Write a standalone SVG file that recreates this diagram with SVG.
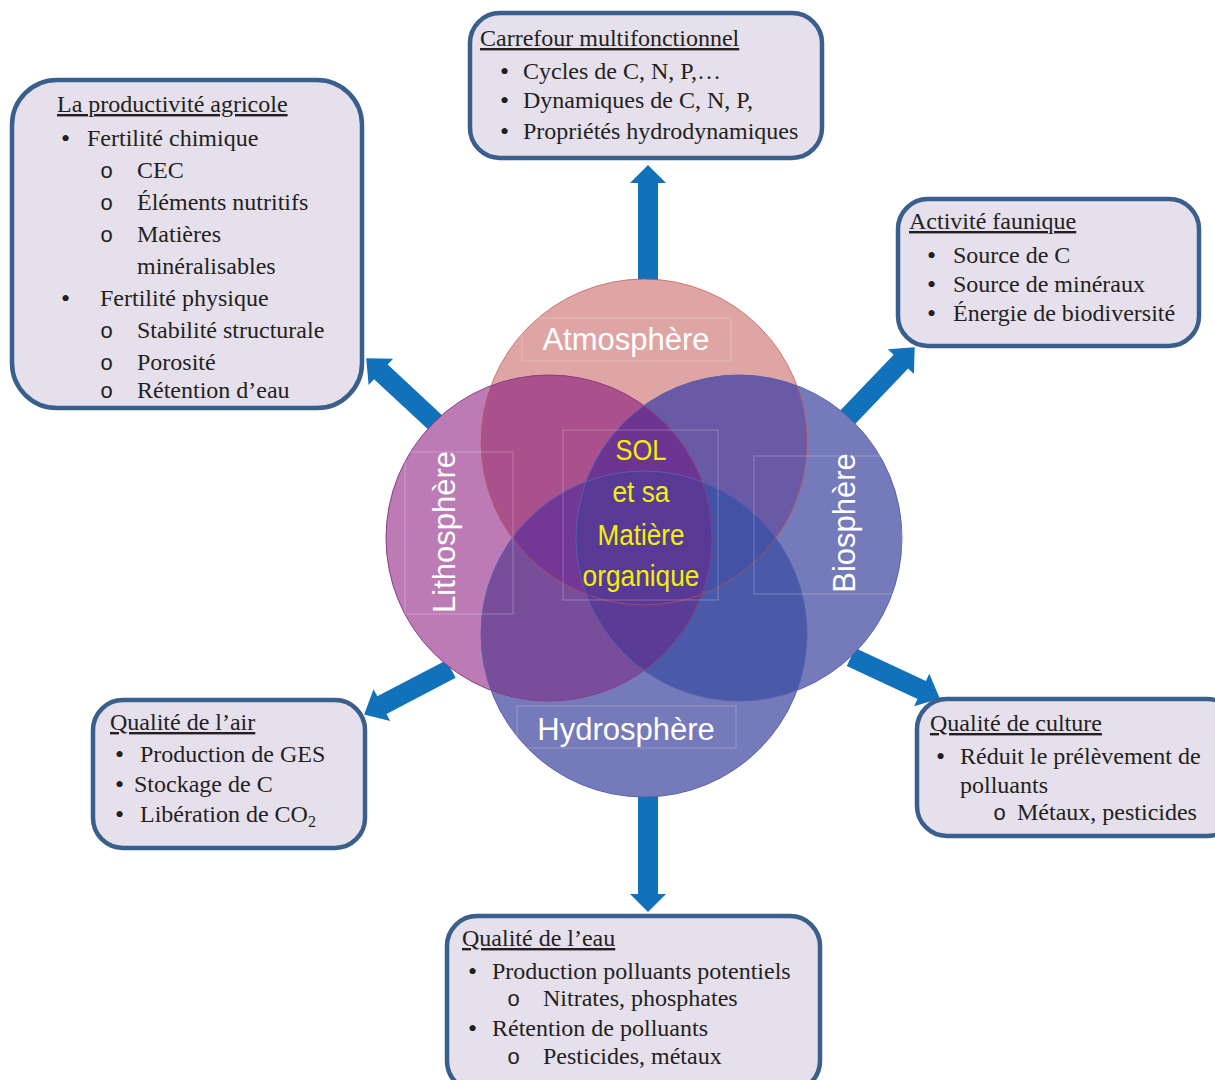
<svg xmlns="http://www.w3.org/2000/svg" width="1215" height="1080" viewBox="0 0 1215 1080">
<style>
.box{fill:#e5e0ec;stroke:#3a5f8c;stroke-width:4.5}
.t{font-family:"Liberation Serif","Times New Roman",serif;font-size:24px;fill:#231f20}
.title{text-decoration:underline}
.b{font-family:"Liberation Serif","Times New Roman",serif;font-size:26px;fill:#231f20}
.sub{font-family:"Liberation Mono","Courier New",monospace;font-size:22px;fill:#231f20}
.arrow{fill:#1171bb}
.lbl{font-family:"Liberation Sans",Arial,sans-serif;font-size:31px;fill:#ffffff}
.lblbox{fill:none;stroke:#ffffff;stroke-opacity:0.25;stroke-width:1}
.core{font-family:"Liberation Sans",Arial,sans-serif;font-size:30px;fill:#f2f200}
.edge{fill:none;stroke-width:1}
</style>
<defs>
<path id="arrShort" d="M0,-10 H78 V-18 L98,0 L78,18 V10 H0 Z"/>
<path id="arrLong" d="M0,-10 H98 V-18 L116,0 L98,18 V10 H0 Z"/>
<circle id="cirA" cx="644" cy="442" r="163"/>
<circle id="cirL" cx="549" cy="538" r="163"/>
<circle id="cirB" cx="739" cy="538" r="163"/>
<circle id="cirH" cx="644" cy="634" r="163"/>
<clipPath id="cA"><use href="#cirA"/></clipPath>
<clipPath id="cL"><use href="#cirL"/></clipPath>
<clipPath id="cB"><use href="#cirB"/></clipPath>
<clipPath id="cH"><use href="#cirH"/></clipPath>
</defs>

<g id="connectors">
  <use href="#arrLong" class="arrow" transform="translate(648,281) rotate(-90)"/>
  <use href="#arrLong" class="arrow" transform="translate(648,796) rotate(90)"/>
  <use href="#arrShort" class="arrow" transform="translate(438,425) rotate(222.9)"/>
  <use href="#arrShort" class="arrow" transform="translate(847,418) rotate(-46.3)"/>
  <use href="#arrShort" class="arrow" transform="translate(451,669) rotate(152.4)"/>
  <use href="#arrShort" class="arrow" transform="translate(851,657) rotate(25)"/>
</g>

<g id="spheres">
  <g id="atmosphere"><use href="#cirA" fill="#dea5a4"/></g>
  <g id="lithosphere"><use href="#cirL" fill="#bc7bb4"/></g>
  <g id="biosphere"><use href="#cirB" fill="#757aba"/></g>
  <g id="hydrosphere"><use href="#cirH" fill="#757aba"/></g>
  <g id="overlaps">
    <g clip-path="url(#cA)"><use href="#cirL" fill="#aa508c"/><use href="#cirB" fill="#685aa5"/></g>
    <g clip-path="url(#cH)"><use href="#cirL" fill="#784e9b"/><use href="#cirB" fill="#4b5aa8"/></g>
    <g clip-path="url(#cA)"><g clip-path="url(#cL)"><use href="#cirB" fill="#6e3492"/><use href="#cirH" fill="#733796"/></g></g>
    <g clip-path="url(#cA)"><g clip-path="url(#cB)"><use href="#cirH" fill="#4352a5"/></g></g>
    <g clip-path="url(#cL)"><g clip-path="url(#cB)"><use href="#cirH" fill="#5a3c96"/></g></g>
    <g clip-path="url(#cA)"><g clip-path="url(#cL)"><g clip-path="url(#cB)"><use href="#cirH" fill="#583a96"/></g></g></g>
  </g>
  <g id="outlines">
    <use href="#cirA" class="edge" stroke="#c0504d" stroke-opacity="0.7"/>
    <use href="#cirL" class="edge" stroke="#8b3a83"/>
    <use href="#cirB" class="edge" stroke="#5560ad"/>
    <use href="#cirH" class="edge" stroke="#5560ad"/>
  </g>
</g>

<g id="sphere-labels">
  <rect class="lblbox" x="522" y="318" width="209" height="43"/>
  <text class="lbl" x="626" y="350" text-anchor="middle">Atmosphère</text>
  <rect class="lblbox" x="517" y="706" width="219" height="42"/>
  <text class="lbl" x="626" y="740" text-anchor="middle">Hydrosphère</text>
  <rect class="lblbox" x="405" y="452" width="108" height="162"/>
  <text class="lbl" transform="translate(455,532) rotate(-90)" text-anchor="middle">Lithosphère</text>
  <rect class="lblbox" x="754" y="456" width="148" height="138"/>
  <text class="lbl" transform="translate(855,523) rotate(-90)" text-anchor="middle">Biosphère</text>
</g>

<g id="core">
  <rect class="lblbox" x="563" y="430" width="155" height="170"/>
  <text class="core" x="641" y="460" text-anchor="middle" textLength="51" lengthAdjust="spacingAndGlyphs">SOL</text>
  <text class="core" x="641" y="502" text-anchor="middle" textLength="57" lengthAdjust="spacingAndGlyphs">et sa</text>
  <text class="core" x="641" y="545" text-anchor="middle" textLength="87" lengthAdjust="spacingAndGlyphs">Matière</text>
  <text class="core" x="641" y="586" text-anchor="middle" textLength="117" lengthAdjust="spacingAndGlyphs">organique</text>
</g>

<g id="productivite">
  <rect class="box" x="12" y="80" width="350" height="328" rx="45"/>
  <text class="t title" x="57" y="112">La productivité agricole</text>
  <text class="b" x="61" y="147">•</text><text class="t" x="87" y="146">Fertilité chimique</text>
  <text class="sub" x="100" y="178">o</text><text class="t" x="137" y="178">CEC</text>
  <text class="sub" x="100" y="210">o</text><text class="t" x="137" y="210">Éléments nutritifs</text>
  <text class="sub" x="100" y="242">o</text><text class="t" x="137" y="242">Matières</text>
  <text class="t" x="137" y="274">minéralisables</text>
  <text class="b" x="61" y="307">•</text><text class="t" x="100" y="306">Fertilité physique</text>
  <text class="sub" x="100" y="338">o</text><text class="t" x="137" y="338">Stabilité structurale</text>
  <text class="sub" x="100" y="370">o</text><text class="t" x="137" y="370">Porosité</text>
  <text class="sub" x="100" y="398">o</text><text class="t" x="137" y="398">Rétention d’eau</text>
</g>

<g id="carrefour">
  <rect class="box" x="470" y="13" width="352" height="145" rx="30"/>
  <text class="t title" x="480" y="46">Carrefour multifonctionnel</text>
  <text class="b" x="500" y="80">•</text><text class="t" x="523" y="79">Cycles de C, N, P,…</text>
  <text class="b" x="500" y="109">•</text><text class="t" x="523" y="108">Dynamiques de C, N, P,</text>
  <text class="b" x="500" y="140">•</text><text class="t" x="523" y="139">Propriétés hydrodynamiques</text>
</g>

<g id="faunique">
  <rect class="box" x="898" y="199" width="301" height="147" rx="30"/>
  <text class="t title" x="909" y="229">Activité faunique</text>
  <text class="b" x="927" y="264">•</text><text class="t" x="953" y="263">Source de C</text>
  <text class="b" x="927" y="293">•</text><text class="t" x="953" y="292">Source de minéraux</text>
  <text class="b" x="927" y="322">•</text><text class="t" x="953" y="321">Énergie de biodiversité</text>
</g>

<g id="air">
  <rect class="box" x="93" y="700" width="272" height="148" rx="30"/>
  <text class="t title" x="110" y="730">Qualité de l’air</text>
  <text class="b" x="115" y="763">•</text><text class="t" x="140" y="762">Production de GES</text>
  <text class="b" x="115" y="793">•</text><text class="t" x="134" y="792">Stockage de C</text>
  <text class="b" x="115" y="823">•</text><text class="t" x="140" y="822">Libération de CO<tspan font-size="16" dy="5">2</tspan></text>
</g>

<g id="culture">
  <rect class="box" x="917" y="699" width="320" height="137" rx="30"/>
  <text class="t title" x="930" y="731">Qualité de culture</text>
  <text class="b" x="936" y="765">•</text><text class="t" x="960" y="764">Réduit le prélèvement de</text>
  <text class="t" x="960" y="793">polluants</text>
  <text class="sub" x="993" y="820">o</text><text class="t" x="1017" y="820">Métaux, pesticides</text>
</g>

<g id="eau">
  <rect class="box" x="447" y="916" width="373" height="175" rx="30"/>
  <text class="t title" x="462" y="946">Qualité de l’eau</text>
  <text class="b" x="468" y="980">•</text><text class="t" x="492" y="979">Production polluants potentiels</text>
  <text class="sub" x="507" y="1006">o</text><text class="t" x="543" y="1006">Nitrates, phosphates</text>
  <text class="b" x="468" y="1037">•</text><text class="t" x="492" y="1036">Rétention de polluants</text>
  <text class="sub" x="507" y="1064">o</text><text class="t" x="543" y="1064">Pesticides, métaux</text>
</g>
</svg>
